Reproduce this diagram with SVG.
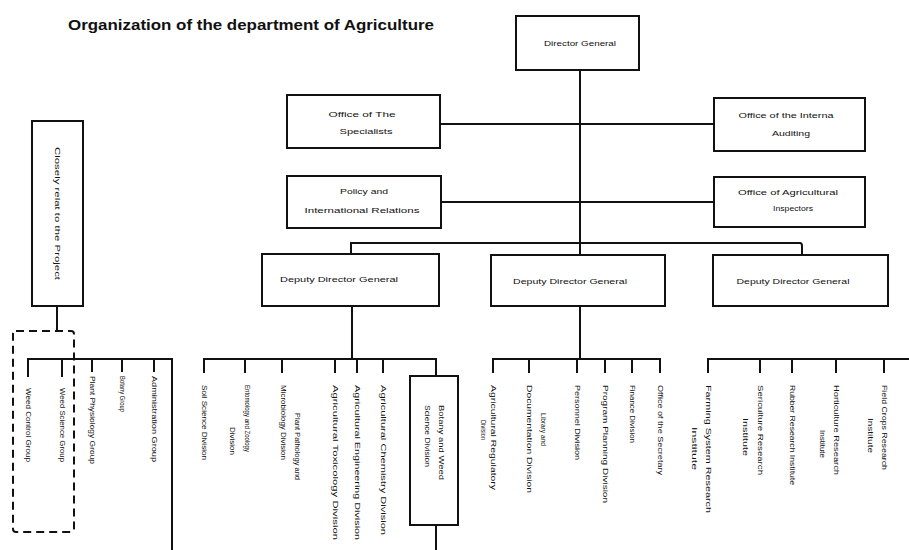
<svg xmlns="http://www.w3.org/2000/svg" width="909" height="550" viewBox="0 0 909 550">
  <style>
    .box { fill: #fff; stroke: #111; stroke-width: 2; }
    .dash { fill: none; stroke: #111; stroke-width: 2; stroke-dasharray: 8 5; }
    .ln { fill: none; stroke: #111; stroke-width: 2; }
    .t { font-family: "Liberation Sans", Arial, sans-serif; font-size: 8px; fill: #111; text-anchor: middle; }
    .v { font-family: "Liberation Sans", Arial, sans-serif; font-size: 8px; fill: #111; dominant-baseline: central; }
    .title { font-family: "Liberation Sans", Arial, sans-serif; font-size: 15px; font-weight: bold; fill: #111; }
  </style>
  <rect width="909" height="550" fill="#fff"/>

  <text class="title" x="68" y="30" textLength="366" lengthAdjust="spacingAndGlyphs">Organization of the department of Agriculture</text>

  <!-- connectors -->
  <g id="connectors">
    <!-- trunk from the Director General -->
    <path class="ln" d="M580 70 V255"/>
    <path class="ln" d="M440 124 H714"/>
    <path class="ln" d="M441 202 H714"/>
    <!-- bus to the three deputies -->
    <path class="ln" d="M351 254 V243 H800 Q802 243 802 246 V254"/>
    <!-- left deputy branch -->
    <path class="ln" d="M352 306 V359"/>
    <path class="ln" d="M204 373 V359 H436 V376"/>
    <path class="ln" d="M245 359 V373 M282 359 V373 M335 359 V373 M357 359 V373 M383 359 V373"/>
    <path class="ln" d="M436 525 V550"/>
    <!-- middle deputy branch -->
    <path class="ln" d="M580 306 V359"/>
    <path class="ln" d="M493 373 V359 H660 V373"/>
    <path class="ln" d="M529 359 V373 M577 359 V373 M605 359 V373 M632 359 V373"/>
    <!-- right deputy branch -->
    <path class="ln" d="M708 373 V359 H909"/>
    <path class="ln" d="M760 359 V373 M792 359 V373 M836 359 V373 M884 359 V373"/>
    <!-- project-related groups -->
    <path class="ln" d="M57 306 V331"/>
    <path class="ln" d="M28 377 V359 H172 V550"/>
    <path class="ln" d="M62 359 V377 M92 359 V372 M122 359 V372 M154 359 V372"/>
  </g>

  <g id="director-general">
    <rect class="box" x="516" y="16" width="123" height="54"/>
    <text class="t" x="580" y="46" textLength="72" lengthAdjust="spacingAndGlyphs">Director General</text>
  </g>

  <g id="office-specialists">
    <rect class="box" x="287" y="95" width="153" height="53"/>
    <text class="t" x="362" y="117" textLength="67" lengthAdjust="spacingAndGlyphs">Office of The</text>
    <text class="t" x="366" y="134" textLength="53" lengthAdjust="spacingAndGlyphs">Specialists</text>
  </g>

  <g id="office-internal-auditing">
    <rect class="box" x="714" y="98" width="151" height="53"/>
    <text class="t" x="786" y="118" textLength="95" lengthAdjust="spacingAndGlyphs">Office of the Interna</text>
    <text class="t" x="791" y="136" textLength="38" lengthAdjust="spacingAndGlyphs">Auditing</text>
  </g>

  <g id="policy-relations">
    <rect class="box" x="287" y="176" width="154" height="52"/>
    <text class="t" x="364" y="194" textLength="48" lengthAdjust="spacingAndGlyphs">Policy and</text>
    <text class="t" x="362" y="213" textLength="115" lengthAdjust="spacingAndGlyphs">International  Relations</text>
  </g>

  <g id="office-agricultural-inspectors">
    <rect class="box" x="714" y="177" width="151" height="50"/>
    <text class="t" x="788" y="195" textLength="100" lengthAdjust="spacingAndGlyphs">Office of Agricultural</text>
    <text class="t" x="793" y="211" textLength="40" lengthAdjust="spacingAndGlyphs">Inspectors</text>
  </g>

  <g id="deputy-left">
    <rect class="box" x="262" y="254" width="177" height="52"/>
    <text class="t" x="339" y="282" textLength="118" lengthAdjust="spacingAndGlyphs">Deputy Director General</text>
  </g>

  <g id="deputy-middle">
    <rect class="box" x="491" y="255" width="174" height="51"/>
    <text class="t" x="570" y="284" textLength="114" lengthAdjust="spacingAndGlyphs">Deputy Director General</text>
  </g>

  <g id="deputy-right">
    <rect class="box" x="713" y="255" width="175" height="51"/>
    <text class="t" x="793" y="284" textLength="113" lengthAdjust="spacingAndGlyphs">Deputy Director General</text>
  </g>

  <g id="project-note">
    <rect class="box" x="32" y="121" width="51" height="185"/>
    <text class="v" transform="translate(57 147) rotate(90)" textLength="133" lengthAdjust="spacingAndGlyphs">Closely relat to the Project</text>
  </g>

  <g id="project-related-groups">
    <rect class="dash" x="13" y="331" width="61" height="201" rx="3"/>
  </g>

  <g id="weed-control-group">
    <text class="v" transform="translate(28 388) rotate(90)" textLength="74" lengthAdjust="spacingAndGlyphs">Weed Control Group</text>
  </g>
  <g id="weed-science-group">
    <text class="v" transform="translate(62 388) rotate(90)" textLength="74" lengthAdjust="spacingAndGlyphs">Weed Science Group</text>
  </g>
  <g id="plant-physiology-group">
    <text class="v" transform="translate(92 376) rotate(90)" textLength="88" lengthAdjust="spacingAndGlyphs">Plant Physiology Group</text>
  </g>
  <g id="botany-group">
    <text class="v" transform="translate(122 376) rotate(90)" textLength="36" lengthAdjust="spacingAndGlyphs">Botany Group</text>
  </g>
  <g id="administration-group">
    <text class="v" transform="translate(154 376) rotate(90)" textLength="86" lengthAdjust="spacingAndGlyphs">Administration Group</text>
  </g>

  <g id="soil-science">
    <text class="v" transform="translate(204 385) rotate(90)" textLength="75" lengthAdjust="spacingAndGlyphs">Soil Science Division</text>
  </g>
  <g id="entomology-zoology">
    <text class="v" transform="translate(247 385) rotate(90)" textLength="67" lengthAdjust="spacingAndGlyphs">Entomology and Zoology</text>
    <text class="v" transform="translate(232 427) rotate(90)" textLength="28" lengthAdjust="spacingAndGlyphs">Division</text>
  </g>
  <g id="plant-pathology-microbiology">
    <text class="v" transform="translate(297 413) rotate(90)" textLength="67" lengthAdjust="spacingAndGlyphs">Plant Pathology and</text>
    <text class="v" transform="translate(283 385) rotate(90)" textLength="75" lengthAdjust="spacingAndGlyphs">Microbiology Division</text>
  </g>
  <g id="agricultural-toxicology">
    <text class="v" transform="translate(335 385) rotate(90)" textLength="155" lengthAdjust="spacingAndGlyphs">Agricultural Toxicology Division</text>
  </g>
  <g id="agricultural-engineering">
    <text class="v" transform="translate(357 385) rotate(90)" textLength="155" lengthAdjust="spacingAndGlyphs">Agricultural Engineering Division</text>
  </g>
  <g id="agricultural-chemistry">
    <text class="v" transform="translate(383 385) rotate(90)" textLength="150" lengthAdjust="spacingAndGlyphs">Agricultural Chemistry Division</text>
  </g>
  <g id="botany-weed-science">
    <rect class="box" x="410" y="376" width="48" height="149"/>
    <text class="v" transform="translate(441 405) rotate(90)" textLength="75" lengthAdjust="spacingAndGlyphs">Botany and Weed</text>
    <text class="v" transform="translate(427 405) rotate(90)" textLength="62" lengthAdjust="spacingAndGlyphs">Science Division</text>
  </g>

  <g id="agricultural-regulatory">
    <text class="v" transform="translate(493 385) rotate(90)" textLength="105" lengthAdjust="spacingAndGlyphs">Agricultural Regulatory</text>
    <text class="v" transform="translate(483 420) rotate(90)" textLength="20" lengthAdjust="spacingAndGlyphs">Division</text>
  </g>
  <g id="library-documentation">
    <text class="v" transform="translate(543 413) rotate(90)" textLength="33" lengthAdjust="spacingAndGlyphs">Library and</text>
    <text class="v" transform="translate(529 385) rotate(90)" textLength="108" lengthAdjust="spacingAndGlyphs">Documentation Division</text>
  </g>
  <g id="personnel">
    <text class="v" transform="translate(577 385) rotate(90)" textLength="75" lengthAdjust="spacingAndGlyphs">Personnel Division</text>
  </g>
  <g id="program-planning">
    <text class="v" transform="translate(605 385) rotate(90)" textLength="118" lengthAdjust="spacingAndGlyphs">Program Planning Division</text>
  </g>
  <g id="finance">
    <text class="v" transform="translate(632 385) rotate(90)" textLength="58" lengthAdjust="spacingAndGlyphs">Finance Division</text>
  </g>
  <g id="secretary">
    <text class="v" transform="translate(660 385) rotate(90)" textLength="90" lengthAdjust="spacingAndGlyphs">Office of the Secretary</text>
  </g>

  <g id="farming-system">
    <text class="v" transform="translate(708 385) rotate(90)" textLength="128" lengthAdjust="spacingAndGlyphs">Farming System Research</text>
    <text class="v" transform="translate(694 427) rotate(90)" textLength="43" lengthAdjust="spacingAndGlyphs">Institute</text>
  </g>
  <g id="sericulture">
    <text class="v" transform="translate(760 385) rotate(90)" textLength="90" lengthAdjust="spacingAndGlyphs">Sericulture Research</text>
    <text class="v" transform="translate(745 418) rotate(90)" textLength="38" lengthAdjust="spacingAndGlyphs">Institute</text>
  </g>
  <g id="rubber">
    <text class="v" transform="translate(792 385) rotate(90)" textLength="100" lengthAdjust="spacingAndGlyphs">Rubber Research Institute</text>
  </g>
  <g id="horticulture">
    <text class="v" transform="translate(836 385) rotate(90)" textLength="90" lengthAdjust="spacingAndGlyphs">Horticulture Research</text>
    <text class="v" transform="translate(822 430) rotate(90)" textLength="28" lengthAdjust="spacingAndGlyphs">Institute</text>
  </g>
  <g id="field-crops">
    <text class="v" transform="translate(884 385) rotate(90)" textLength="85" lengthAdjust="spacingAndGlyphs">Field Crops Research</text>
    <text class="v" transform="translate(870 418) rotate(90)" textLength="35" lengthAdjust="spacingAndGlyphs">Institute</text>
  </g>
</svg>
